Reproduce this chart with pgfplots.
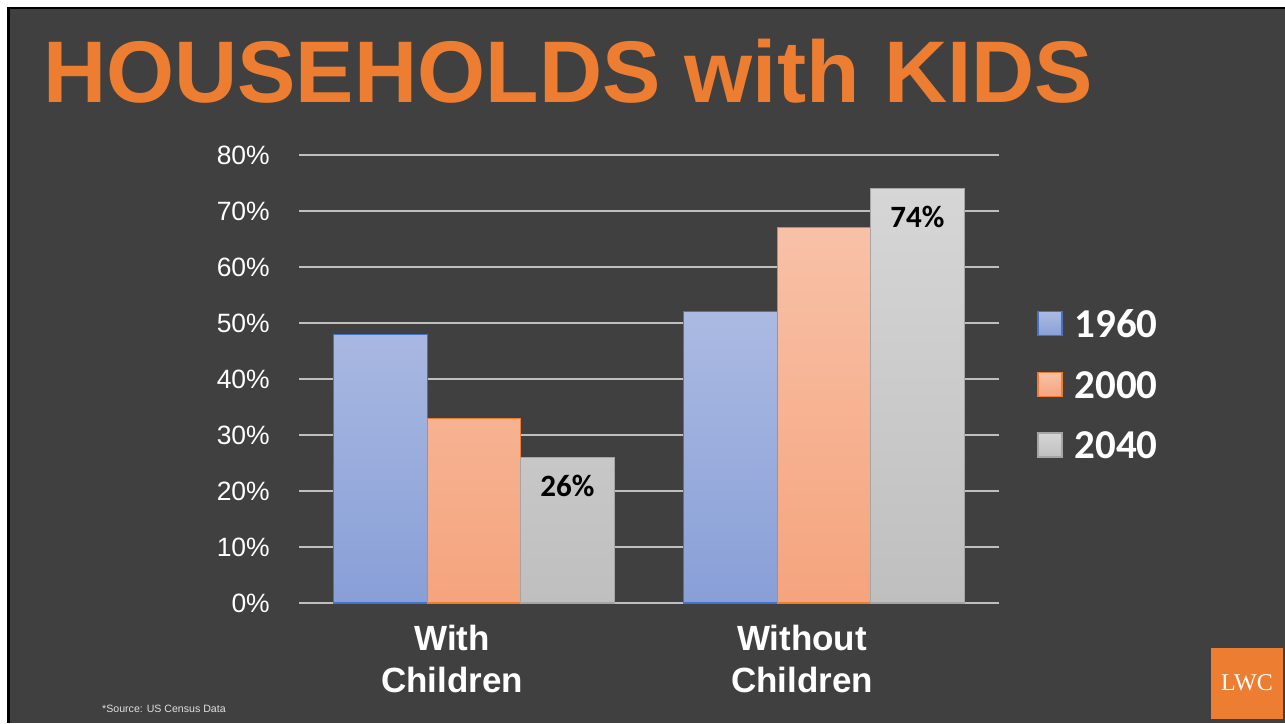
\documentclass[border=0pt]{standalone}
\usepackage{pgfplots}
\pgfplotsset{compat=1.18}
\usepackage{fontspec}
\setmainfont{Liberation Sans}
\newfontfamily\carlito{Carlito}
\newfontfamily\lserif{Liberation Serif}
\definecolor{bg}{HTML}{404040}
\definecolor{orangeT}{HTML}{ED7D31}
\definecolor{blueL}{HTML}{4472C4}
\definecolor{blueTop}{HTML}{ABBAE2}
\definecolor{blueBot}{HTML}{889FD7}
\definecolor{orTop}{HTML}{F8C1A7}
\definecolor{orBot}{HTML}{F5A47D}
\definecolor{grL}{HTML}{A5A5A5}
\definecolor{grTop}{HTML}{D6D6D6}
\definecolor{grBot}{HTML}{BFBFBF}
\definecolor{gridc}{HTML}{BFBFBF}
\definecolor{srcgray}{HTML}{E0E0E0}
\begin{document}
\begin{tikzpicture}[x=1pt,y=1pt]
\fill[white] (0,0) rectangle (1285,723);
\fill[black] (7,0) rectangle (1285,716);
\fill[bg] (10,0) rectangle (1285,713.5);
\node[anchor=base west, inner sep=0pt, text=orangeT, font=\fontsize{87.5}{100}\selectfont\bfseries] at (43,620) {HOUSEHOLDS with KIDS};
\begin{axis}[
  at={(299pt,120pt)}, anchor=south west, scale only axis, width=700pt, height=448pt,
  xmin=-0.5, xmax=1.5, ymin=0, ymax=80, enlargelimits=false,
  ybar=0pt, bar width=93.5pt,
  xtick={0,1}, xticklabels={{With\\Children},{Without\\Children}},
  ytick={0,10,...,80}, yticklabels={0\%,10\%,20\%,30\%,40\%,50\%,60\%,70\%,80\%},
  axis line style={draw=none}, major tick length=0pt,
  ymajorgrids, grid style={draw=gridc, line width=1.3pt},
  yticklabel style={font=\fontsize{26.5}{30}\selectfont, text=white, inner sep=0pt, xshift=-29pt},
  xticklabel style={font=\fontsize{35}{42}\selectfont\bfseries, text=white, align=center, inner sep=0pt, yshift=-22pt, xshift=-22pt},
  legend style={at={(1,0.4866)}, anchor=west, xshift=38pt, draw=none, fill=none, font=\carlito\bfseries\fontsize{41}{48}\selectfont, text=white, row sep=32pt, inner sep=0pt, nodes={inner sep=0pt}},
  legend cell align=left,
  legend image code/.code={\draw[#1, line width=1.3pt] (0pt,-11pt) rectangle (24pt,13pt); \path (36pt,0pt);},
]
\addplot[draw=blueL, top color=blueTop, bottom color=blueBot, line width=1.3pt] coordinates {(0,48) (1,52)};
\addplot[draw=orangeT, top color=orTop, bottom color=orBot, line width=1.3pt] coordinates {(0,33) (1,67)};
\addplot[draw=grL, top color=grTop, bottom color=grBot, line width=1.3pt,
  nodes near coords={\pgfmathprintnumber[assume math mode=true]{\pgfplotspointmeta}\%}, nodes near coords align={below},
  every node near coord/.append style={anchor=north, yshift=-17pt, inner sep=0pt, text=black, font=\carlito\bfseries\fontsize{31}{36}\selectfont}] coordinates {(0,26) (1,74)};
\legend{1960,2000,2040}
\end{axis}
\node[anchor=base west, inner sep=0pt, text=srcgray, font=\fontsize{10.6}{12}\selectfont] at (102,11) {*Source: US Census Data};
\fill[orangeT] (1211,4) rectangle (1283,75);
\node[text=white, inner sep=0pt, font=\lserif\fontsize{24}{28}\selectfont] at (1247,40) {LWC};
\pgfresetboundingbox
\useasboundingbox (0,0) rectangle (1285,723);
\end{tikzpicture}
\end{document}
